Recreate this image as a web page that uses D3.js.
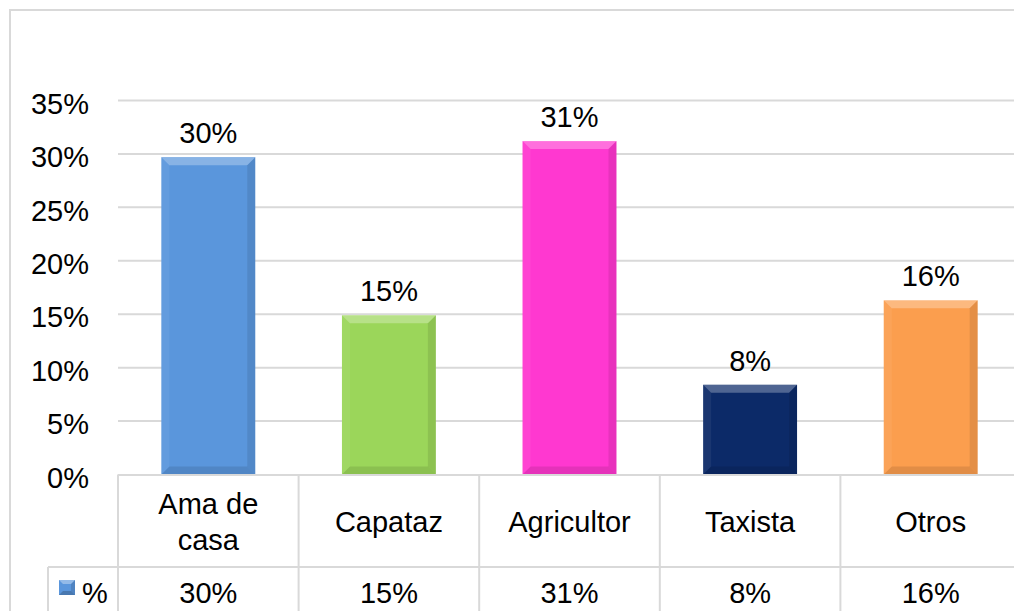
<!DOCTYPE html>
<html>
<head>
<meta charset="utf-8">
<script src="https://cdn.jsdelivr.net/npm/d3@7"></script>
<style>
    body { margin: 0; background: #fff; }
    text { font-family: Arial, "Liberation Sans", sans-serif; fill: #000; }
</style>
</head>
<body>
<script>
var categories = ["Ama de casa", "Capataz", "Agricultor", "Taxista", "Otros"];
var values = [0.297, 0.149, 0.312, 0.084, 0.163];
var valueLabels = ["30%", "15%", "31%", "8%", "16%"];
var barColors = ["#5a96dc", "#9bd65a", "#ff38d0", "#0c2a68", "#fb9e4e"];
var yTicks = [0, 0.05, 0.10, 0.15, 0.20, 0.25, 0.30, 0.35];
var seriesName = "%";

var W = 1014, H = 611;
var plotLeft = 118, plotRight = 1021, plotTop = 100.5, plotBottom = 474.5;
var headerBottom = 567, tableBottom = 640, legendLeft = 48;
var gridColor = "#d9d9d9";
var fontSize = 29;

function display() {

    var chart = d3.select("body")
        .append("svg")
        .attr("width", W)
        .attr("height", H);

    // chart area border
    chart.append("rect")
        .attr("x", 10)
        .attr("y", 10)
        .attr("width", 1030)
        .attr("height", 660)
        .attr("fill", "#fff")
        .attr("stroke", gridColor)
        .attr("stroke-width", 2);

    var x = d3.scaleBand()
        .domain(categories)
        .range([plotLeft, plotRight])
        .paddingInner(0.48)
        .paddingOuter(0.24);

    var y = d3.scaleLinear()
        .domain([0, 0.35])
        .range([plotBottom, plotTop]);

    // grid lines
    chart.append("g").selectAll(".grid")
        .data(yTicks.filter(function(d) { return d > 0; }))
        .enter().append("line")
        .attr("x1", plotLeft)
        .attr("x2", plotRight)
        .attr("y1", function(d) { return y(d); })
        .attr("y2", function(d) { return y(d); })
        .attr("stroke", gridColor)
        .attr("stroke-width", 2);

    // y axis labels
    var fmt = d3.format(".0%");
    chart.append("g").selectAll(".yLabel")
        .data(yTicks)
        .enter().append("text")
        .text(function(d) { return fmt(d); })
        .attr("x", 89)
        .attr("y", function(d) { return y(d) + 3; })
        .attr("dy", "0.35em")
        .attr("text-anchor", "end")
        .style("font-size", fontSize + "px");

    // bars with a soft bevel look
    var bev = 8;
    var bars = chart.append("g").selectAll(".bar")
        .data(values)
        .enter().append("g")
        .attr("class", "bar");

    bars.append("rect")
        .attr("x", function(d, i) { return x(categories[i]); })
        .attr("y", function(d) { return y(d); })
        .attr("width", x.bandwidth())
        .attr("height", function(d) { return y(0) - y(d); })
        .attr("fill", function(d, i) { return barColors[i]; });

    function facet(kind) {
        return function(d, i) {
            var x0 = x(categories[i]), x1 = x0 + x.bandwidth();
            var y0 = y(d), y1 = y(0);
            var pts;
            if (kind === "top") pts = [[x0, y0], [x1, y0], [x1 - bev, y0 + bev], [x0 + bev, y0 + bev]];
            if (kind === "left") pts = [[x0, y0], [x0 + bev, y0 + bev], [x0 + bev, y1 - bev], [x0, y1]];
            if (kind === "right") pts = [[x1, y0], [x1 - bev, y0 + bev], [x1 - bev, y1 - bev], [x1, y1]];
            if (kind === "bottom") pts = [[x0, y1], [x1, y1], [x1 - bev, y1 - bev], [x0 + bev, y1 - bev]];
            return pts.map(function(p) { return p.join(","); }).join(" ");
        };
    }

    bars.append("polygon").attr("points", facet("top")).attr("fill", "#fff").attr("opacity", 0.28);
    bars.append("polygon").attr("points", facet("left")).attr("fill", "#fff").attr("opacity", 0.06);
    bars.append("polygon").attr("points", facet("right")).attr("fill", "#000").attr("opacity", 0.09);
    bars.append("polygon").attr("points", facet("bottom")).attr("fill", "#000").attr("opacity", 0.1);

    // data labels
    chart.append("g").selectAll(".dataLabel")
        .data(values)
        .enter().append("text")
        .text(function(d, i) { return valueLabels[i]; })
        .attr("x", function(d, i) { return x(categories[i]) + x.bandwidth() / 2; })
        .attr("y", function(d) { return y(d) - 14; })
        .attr("text-anchor", "middle")
        .style("font-size", fontSize + "px");

    // data table
    var table = chart.append("g").attr("class", "table");
    var step = x.step();

    table.append("line")
        .attr("x1", plotLeft).attr("x2", plotRight + 40)
        .attr("y1", plotBottom + 0.5).attr("y2", plotBottom + 0.5)
        .attr("stroke", gridColor).attr("stroke-width", 2);
    table.append("line")
        .attr("x1", legendLeft).attr("x2", plotRight + 40)
        .attr("y1", headerBottom).attr("y2", headerBottom)
        .attr("stroke", gridColor).attr("stroke-width", 2);
    table.append("line")
        .attr("x1", legendLeft).attr("x2", legendLeft)
        .attr("y1", headerBottom).attr("y2", tableBottom)
        .attr("stroke", gridColor).attr("stroke-width", 2);

    table.selectAll(".vline")
        .data(d3.range(categories.length + 1))
        .enter().append("line")
        .attr("x1", function(i) { return plotLeft + i * step; })
        .attr("x2", function(i) { return plotLeft + i * step; })
        .attr("y1", plotBottom)
        .attr("y2", tableBottom)
        .attr("stroke", gridColor)
        .attr("stroke-width", 2);

    // header (category) texts, wrapped on two lines when long
    var headers = table.selectAll(".header")
        .data(categories)
        .enter().append("text")
        .attr("text-anchor", "middle")
        .style("font-size", fontSize + "px");

    headers.each(function(d) {
        var words = d.split(" ");
        var lines = words.length > 2 ? [words.slice(0, 2).join(" "), words.slice(2).join(" ")] : [d];
        var cx = x(d) + x.bandwidth() / 2;
        var midY = (plotBottom + headerBottom) / 2;
        var lh = 36;
        var sel = d3.select(this);
        lines.forEach(function(line, k) {
            sel.append("tspan")
                .attr("x", cx)
                .attr("y", midY + 11 + (k - (lines.length - 1) / 2) * lh)
                .text(line);
        });
    });

    // value row
    table.selectAll(".cell")
        .data(values)
        .enter().append("text")
        .text(function(d, i) { return valueLabels[i]; })
        .attr("x", function(d, i) { return x(categories[i]) + x.bandwidth() / 2; })
        .attr("y", 603)
        .attr("text-anchor", "middle")
        .style("font-size", fontSize + "px");

    // legend key
    var key = table.append("g");
    key.append("rect")
        .attr("x", 59).attr("y", 580).attr("width", 16).attr("height", 15)
        .attr("fill", barColors[0]);
    key.append("polygon")
        .attr("points", "59,580 75,580 71,584 63,584")
        .attr("fill", "#fff").attr("opacity", 0.35);
    key.append("polygon")
        .attr("points", "59,595 75,595 71,591 63,591")
        .attr("fill", "#000").attr("opacity", 0.2);
    key.append("polygon")
        .attr("points", "75,580 75,595 71,591 71,584")
        .attr("fill", "#000").attr("opacity", 0.12);
    key.append("text")
        .text(seriesName)
        .attr("x", 82)
        .attr("y", 603)
        .style("font-size", fontSize + "px");
}

document.addEventListener("DOMContentLoaded", function() {
    display();
});
</script>
</body>
</html>
